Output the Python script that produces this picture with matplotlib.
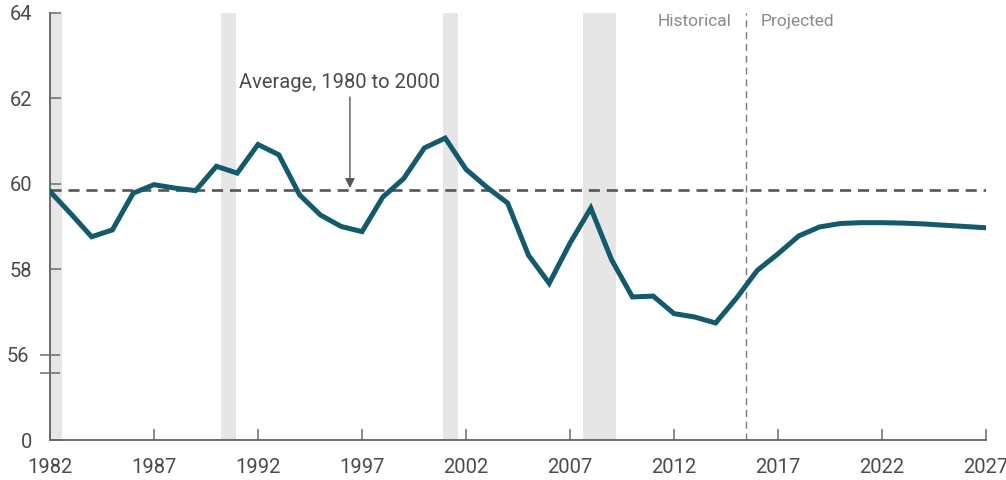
import matplotlib.pyplot as plt

plt.rcParams["font.family"] = ["Roboto", "DejaVu Sans"]

years = list(range(1982, 2028))
rate = [59.82, 59.30, 58.76, 58.92, 59.78, 59.98, 59.90, 59.84, 60.41, 60.25,
        60.92, 60.68, 59.74, 59.27, 59.00, 58.88, 59.69, 60.12, 60.84, 61.07,
        60.34, 59.92, 59.55, 58.33, 57.67, 58.61, 59.43, 58.22, 57.35, 57.37,
        56.96, 56.88, 56.74, 57.32, 57.97, 58.36, 58.78, 58.99, 59.07, 59.09,
        59.09, 59.08, 59.06, 59.03, 59.00, 58.97]

average = 59.86
recessions = [(1982.0, 1982.58), (1990.22, 1990.94), (2000.91, 2001.63), (2007.64, 2009.21)]
projection_start = 2015.45

xticks = [1982, 1987, 1992, 1997, 2002, 2007, 2012, 2017, 2022, 2027]
yticks = [54, 58, 60, 62, 64]
ytick_labels = ["0", "58", "60", "62", "64"]
break_ticks = [55.58, 56]
break_labels = ["", "56"]

line_color = "#135a6d"
axis_color = "#6b6b6b"
text_color = "#4a4a4a"

fig = plt.figure(figsize=(10.06, 4.80), dpi=100)
ax = fig.add_axes([50 / 1006, 40 / 480, 936 / 1006, 427 / 480])

for start, end in recessions:
    ax.axvspan(start, end, color="#e6e6e6", lw=0, zorder=0)

ax.axvline(projection_start, color="#7a7a7a", lw=1.0, dashes=(5, 3.5), zorder=1)
ax.axhline(average, color="#555555", lw=1.9, dashes=(4.2, 2.6), zorder=2)
ax.plot(years, rate, color=line_color, lw=3.6, solid_joinstyle="miter", zorder=3)

# label and arrow for the average line
ax.text(1995.9, 62.37, "Average, 1980 to 2000", ha="center", va="center",
        fontsize=14.5, color=text_color)
ax.annotate("", xy=(1996.42, average + 0.04), xytext=(1996.42, 62.03),
            arrowprops=dict(arrowstyle="-|>", color="#555555", lw=1.0,
                            mutation_scale=14, shrinkA=0, shrinkB=0))

ax.text(projection_start - 0.7, 63.79, "Historical", ha="right", va="center",
        fontsize=12.5, color="#8a8a8a")
ax.text(projection_start + 0.7, 63.79, "Projected", ha="left", va="center",
        fontsize=12.5, color="#8a8a8a")

ax.set_xlim(1982, 2027)
ax.set_ylim(54, 64)

ax.set_xticks(xticks)
ax.set_yticks(yticks, labels=ytick_labels)
ax.set_yticks(break_ticks, labels=break_labels, minor=True)

ax.tick_params(axis="both", which="major", direction="in", length=8, width=1.1,
               color=axis_color, labelcolor=text_color, labelsize=14.5, pad=13)
ax.tick_params(axis="y", which="minor", direction="inout", length=15, width=1.1,
               color=axis_color, labelcolor=text_color, labelsize=14.5, pad=7.5)

for side in ["top", "right"]:
    ax.spines[side].set_visible(False)
for side in ["left", "bottom"]:
    ax.spines[side].set_color(axis_color)
    ax.spines[side].set_linewidth(1.4)

fig.savefig("out.png", dpi=100)
